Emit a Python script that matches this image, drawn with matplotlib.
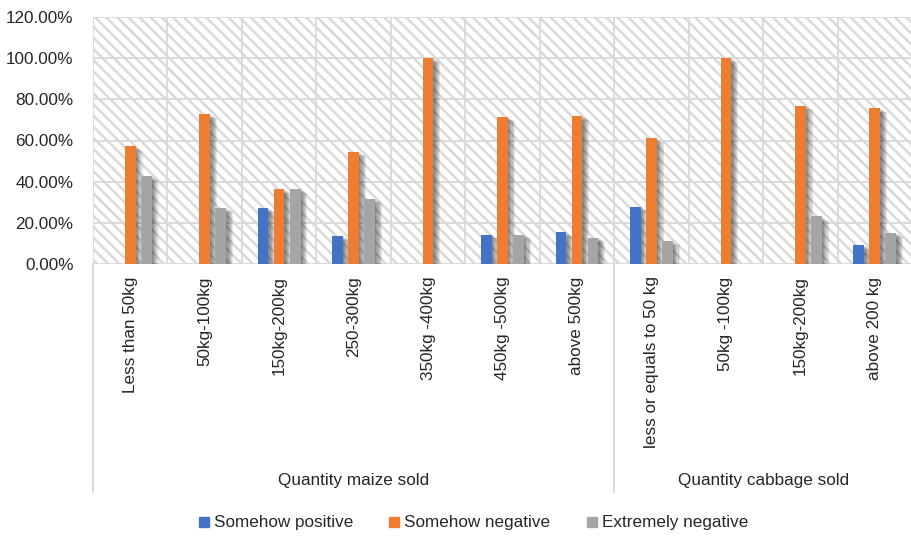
import matplotlib
matplotlib.use("Agg")
import matplotlib.pyplot as plt
import numpy as np
from matplotlib.patches import Rectangle
from matplotlib.lines import Line2D
from matplotlib import patheffects as pe
from matplotlib.transforms import blended_transform_factory

plt.rcParams['font.family'] = ['Liberation Sans', 'DejaVu Sans']
plt.rcParams['hatch.linewidth'] = 1.8

# Share of responses per quantity band (percent)
categories = ["Less than 50kg", "50kg-100kg", "150kg-200kg", "250-300kg",
              "350kg -400kg", "450kg -500kg", "above 500kg",
              "less or equals to 50 kg", "50kg -100kg", "150kg-200kg",
              "above 200 kg"]
groups = ["Quantity maize sold", "Quantity cabbage sold"]
group_sizes = [7, 4]
series_names = ["Somehow positive", "Somehow negative", "Extremely negative"]
somehow_positive = [0, 0, 27.27, 13.64, 0, 14.29, 15.38, 27.78, 0, 0, 9.09]
somehow_negative = [57.14, 72.73, 36.36, 54.55, 100, 71.43, 71.79, 61.11, 100, 76.92, 75.76]
extremely_negative = [42.86, 27.27, 36.36, 31.82, 0, 14.29, 12.82, 11.11, 0, 23.08, 15.15]
y_ticks = [0, 20, 40, 60, 80, 100, 120]

colors = ["#4472C4", "#ED7D31", "#A5A5A5"]
grid_color = "#d9d9d9"
text_color = "#262626"

fig = plt.figure(figsize=(9.12, 5.4), dpi=100)
ax = fig.add_axes([93 / 912, 1 - 264 / 540, 1 - 93 / 912, (264 - 17) / 540])

n = len(categories)
x = np.arange(n)
width = 0.144
offset = 0.215

# hatched plot background
ax.add_patch(Rectangle((0, 0), 1, 1, transform=ax.transAxes, facecolor="white",
                       edgecolor="#dadada", hatch="\\\\\\", lw=0, zorder=0))

shadow = [pe.SimplePatchShadow(offset=(d, -d * 0.6), shadow_rgbFace="#000000", alpha=0.09)
          for d in (1.0, 1.8, 2.6, 3.4, 4.2, 5.0)] + [pe.Normal()]

for i, (vals, col) in enumerate(zip([somehow_positive, somehow_negative, extremely_negative], colors)):
    vals = np.array(vals, dtype=float) / 100
    bars = ax.bar(x + (i - 1) * offset, vals, width=width, color=col, zorder=3)
    for b, v in zip(bars, vals):
        if v > 0:
            b.set_path_effects(shadow)
        else:
            b.set_visible(False)

ax.set_xlim(-0.5, n - 0.5)
ax.set_ylim(0, 1.2)
ax.set_yticks([t / 100 for t in y_ticks])
ax.set_yticklabels([f"{t:.2f}%" for t in y_ticks])

# grid
for t in y_ticks:
    ax.axhline(t / 100, color=grid_color, lw=1.3, zorder=1)
for k in range(n):
    ax.axvline(k - 0.5, color=grid_color, lw=1.3, zorder=1)

for s in ax.spines.values():
    s.set_visible(False)

ax.set_xticks(x)
ax.set_xticklabels(categories, rotation=90, fontsize=12.3, color=text_color)
ax.tick_params(axis="x", length=0, pad=9)
ax.tick_params(axis="y", length=0, pad=14, labelsize=12.3, labelcolor=text_color)

# multi-level category axis: group separators and group labels
trans = blended_transform_factory(ax.transData, fig.transFigure)
y_axis = 1 - 264 / 540
y_low = 1 - 492 / 540
bounds = [-0.5]
for gs in group_sizes:
    bounds.append(bounds[-1] + gs)
for b in bounds[:-1]:
    fig.add_artist(Line2D([b, b], [y_low, y_axis], transform=trans,
                          color=grid_color, lw=1.3))
for g, a, b in zip(groups, bounds[:-1], bounds[1:]):
    fig.text((a + b) / 2, 1 - 481 / 540, g, transform=trans, ha="center",
             va="center", fontsize=12.3, color=text_color)

handles = [Line2D([], [], marker="s", linestyle="none", markersize=7,
                  markerfacecolor=c, markeredgecolor=c) for c in colors]
fig.legend(handles, series_names, loc="center", bbox_to_anchor=(0.518, 1 - 523 / 540),
           ncol=3, frameon=False, fontsize=12.3, handletextpad=0.2,
           columnspacing=2.0, labelcolor=text_color, handlelength=0.8)

fig.savefig("out.png", dpi=100)
